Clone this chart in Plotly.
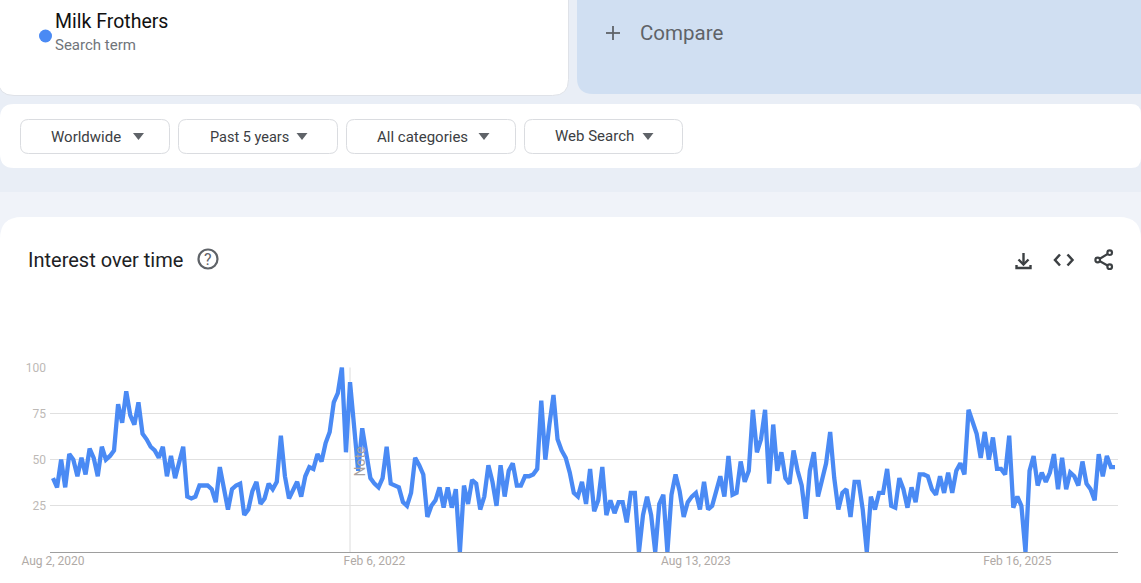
import pandas as pd
import plotly.graph_objects as go

W, H = 1141, 583

# ---- data ----
start_date = "2020-08-02"
interest = [
    40, 35, 50, 35, 53, 50, 41, 51, 42, 56, 51, 41, 57, 50, 52, 55, 80, 70, 87, 74,
    69, 81, 64, 61, 57, 55, 51, 57, 41, 52, 40, 48, 57, 30, 29, 30, 36, 36, 36, 34,
    27, 46, 35, 23, 34, 36, 37, 20, 23, 33, 38, 26, 29, 37, 34, 38, 63, 41, 29, 34,
    38, 30, 41, 46, 45, 53, 49, 59, 65, 81, 86, 100, 54, 92, 66, 44, 67, 54, 40, 37,
    35, 40, 57, 37, 36, 35, 27, 25, 32, 51, 47, 42, 19, 25, 28, 35, 24, 35, 24, 34,
    0, 36, 26, 39, 37, 23, 30, 47, 38, 25, 47, 30, 44, 48, 36, 36, 41, 41, 42, 45,
    82, 50, 69, 85, 61, 55, 51, 43, 32, 30, 38, 26, 45, 22, 28, 46, 20, 28, 21, 27,
    27, 16, 32, 32, 0, 20, 30, 20, 0, 26, 31, 0, 31, 42, 33, 19, 27, 30, 32, 23,
    38, 23, 25, 33, 41, 30, 52, 31, 32, 49, 38, 44, 77, 54, 61, 77, 37, 69, 44, 54,
    40, 37, 55, 44, 36, 18, 44, 54, 30, 39, 48, 65, 40, 23, 32, 34, 19, 38, 38, 23,
    0, 30, 23, 32, 32, 45, 25, 24, 40, 34, 24, 35, 27, 42, 42, 41, 34, 31, 41, 32,
    43, 32, 44, 48, 42, 77, 70, 64, 51, 65, 50, 62, 45, 45, 42, 63, 24, 30, 25, 0,
    44, 52, 36, 43, 38, 43, 53, 34, 51, 34, 43, 41, 36, 49, 37, 34, 28, 53, 41, 52,
    46, 46,
]
y_ticks = [25, 50, 75, 100]
x_tick_dates = ["2020-08-02", "2022-02-06", "2023-08-13", "2025-02-16"]
x_tick_labels = ["Aug 2, 2020", "Feb 6, 2022", "Aug 13, 2023", "Feb 16, 2025"]
note_date = "2021-12-26"
filters = ["Worldwide", "Past 5 years", "All categories", "Web Search"]

dates = pd.date_range(start_date, periods=len(interest), freq="7D")

# ---- helpers: page furniture in pixel coordinates ----
def fx(px):
    return px / W

def fy(py):
    return 1 - py / H

def P(px, py):
    return f"{fx(px):.5f},{fy(py):.5f}"

def round_rect(x0, y0, x1, y1, tl=0, tr=0, br=0, bl=0):
    d = f"M{P(x0 + tl, y0)} L{P(x1 - tr, y0)} "
    if tr:
        d += f"Q{P(x1, y0)} {P(x1, y0 + tr)} "
    d += f"L{P(x1, y1 - br)} "
    if br:
        d += f"Q{P(x1, y1)} {P(x1 - br, y1)} "
    d += f"L{P(x0 + bl, y1)} "
    if bl:
        d += f"Q{P(x0, y1)} {P(x0, y1 - bl)} "
    d += f"L{P(x0, y0 + tl)} "
    if tl:
        d += f"Q{P(x0, y0)} {P(x0 + tl, y0)} "
    return d + "Z"

def path_shape(d, fill="rgba(0,0,0,0)", line=None, width=1, layer="below"):
    return dict(type="path", xref="paper", yref="paper", path=d, fillcolor=fill,
                line=dict(color=line or "rgba(0,0,0,0)", width=width if line else 0),
                layer=layer)

def polyline(pts):
    return "M" + " L".join(P(a, b) for a, b in pts)

def circle(cx, cy, r, fill="rgba(0,0,0,0)", line=None, width=1):
    return dict(type="circle", xref="paper", yref="paper",
                x0=fx(cx - r), x1=fx(cx + r), y0=fy(cy + r), y1=fy(cy - r),
                fillcolor=fill, line=dict(color=line or "rgba(0,0,0,0)", width=width if line else 0),
                layer="below")

def label(text, x, y, size, color, family="Roboto", anchor="left"):
    return dict(text=text, x=fx(x), y=fy(y), xref="paper", yref="paper",
                xanchor=anchor, yanchor="middle", showarrow=False, borderpad=0,
                font=dict(size=size, color=color, family=family))

PAGE = "#e9eef6"
LOWER = "#f0f3f9"
ICON = "#3c4043"
shapes = [
    dict(type="rect", xref="paper", yref="paper", x0=0, x1=1, y0=0, y1=fy(192),
         fillcolor=LOWER, line=dict(width=0), layer="below"),
    path_shape(round_rect(-2, -20, 568.5, 95.5, br=16, bl=16), fill="#ffffff", line="#dfe2e8"),
    path_shape(round_rect(577, -20, 1160, 94, bl=16), fill="#d0dff2"),
    path_shape(round_rect(0, 104, 1141, 168, tl=14, tr=10, br=10, bl=14), fill="#ffffff"),
    path_shape(round_rect(0, 217, 1141, 600, tl=22, tr=22), fill="#ffffff"),
    circle(45.5, 36, 6.5, fill="#4a8af4"),
    # compare plus
    path_shape(polyline([(606, 33), (620, 33)]), line="#5f6368", width=1.8),
    path_shape(polyline([(613, 26), (613, 40)]), line="#5f6368", width=1.8),
    # help icon
    circle(208, 259, 9.5, line="#5f6368", width=2.2),
    # download icon
    path_shape(polyline([(1023.5, 253), (1023.5, 264)]), line=ICON, width=2.4),
    path_shape(polyline([(1018.5, 259.5), (1023.5, 264.5), (1028.5, 259.5)]), line=ICON, width=2.4),
    path_shape(polyline([(1016.5, 265), (1016.5, 268), (1030.5, 268), (1030.5, 265)]), line=ICON, width=2.4),
    # embed icon
    path_shape(polyline([(1060, 254.5), (1055, 260), (1060, 265.5)]), line=ICON, width=2.5),
    path_shape(polyline([(1067.5, 254.5), (1072.5, 260), (1067.5, 265.5)]), line=ICON, width=2.5),
    # share icon
    path_shape(polyline([(1109.7, 252.7), (1097.7, 260), (1109.7, 266.7)]), line=ICON, width=2.2),
    circle(1109.7, 252.7, 2.3, fill="#ffffff", line=ICON, width=2.2),
    circle(1097.7, 260, 2.3, fill="#ffffff", line=ICON, width=2.2),
    circle(1109.7, 266.7, 2.3, fill="#ffffff", line=ICON, width=2.2),
]

button_spans = [(20, 170), (178, 338), (346, 516), (524, 683)]
text_lefts = [50, 209, 376, 554]
text_sizes = [15, 14.5, 15, 15]
text_mids = [136.5, 137, 136.5, 136]
arrow_centers = [138.5, 302, 484, 648]
annotations = [
    label("Milk Frothers", 53.5, 21.5, 19.5, "#111111"),
    label("Search term", 53.5, 45, 15, "#70757a"),
    label("Compare", 638.5, 33, 20.5, "#5f6368"),
    label("Interest over time", 26.5, 260, 20, "#202124"),
    label("?", 208, 259.5, 16, "#5f6368", anchor="center"),
]
for name, (a, b), tx, ts, tm, ac in zip(filters, button_spans, text_lefts, text_sizes, text_mids, arrow_centers):
    shapes.append(path_shape(round_rect(a + .5, 119.5, b - .5, 153.5, 8, 8, 8, 8),
                             fill="#ffffff", line="#dadce0"))
    shapes.append(path_shape(f"M{P(ac - 5.5, 133)} L{P(ac + 5.5, 133)} L{P(ac, 140)} Z", fill="#5f6368"))
    annotations.append(label(name, tx, tm, ts, "#3c4043"))

# vertical note line and its rotated tag, placed through the data axis
shapes.append(dict(type="line", xref="x", yref="y", x0=note_date, x1=note_date, y0=0, y1=100,
                   line=dict(color="#dcdcdc", width=1), layer="below"))
annotations.append(dict(text="Note", x=note_date, y=49, xref="x", yref="y", textangle=-90,
                        xshift=9, showarrow=False, xanchor="center", yanchor="middle",
                        font=dict(size=14, color="#a8a2a0", family="Roboto")))

fig = go.Figure(go.Scatter(
    x=dates, y=interest, mode="lines",
    line=dict(color="#4a8af4", width=4.3),
    hoverinfo="skip", showlegend=False,
))

step_days = 7 / 4.069
fig.update_layout(
    width=W, height=H,
    margin=dict(l=0, r=0, t=0, b=0, autoexpand=False),
    paper_bgcolor=PAGE, plot_bgcolor="rgba(0,0,0,0)",
    shapes=shapes, annotations=annotations, showlegend=False,
    xaxis=dict(
        domain=[fx(50), fx(1118)], type="date", automargin=False,
        range=[dates[0] - pd.Timedelta(days=3 * step_days),
               dates[-1] + pd.Timedelta(days=3 * step_days)],
        tickmode="array", tickvals=x_tick_dates, ticktext=x_tick_labels,
        showgrid=False, showline=False, zeroline=False, ticks="",
        tickfont=dict(size=12, color="#b0aaa6", family="Roboto"),
    ),
    yaxis=dict(
        domain=[fy(552), fy(367.3)], range=[0, 100], automargin=False,
        tickmode="array", tickvals=y_ticks, ticktext=[str(v) for v in y_ticks],
        showgrid=True, gridcolor="#e0e0e0", gridwidth=1,
        zeroline=True, zerolinecolor="#9e9e9e", zerolinewidth=1,
        showline=False, ticks="", ticklabelstandoff=3,
        tickfont=dict(size=12, color="#bdb9b6", family="Roboto"),
    ),
)

fig.write_html("out.html", config=dict(displayModeBar=False),
               post_script="document.body.style.margin='0';document.body.style.overflow='hidden';"
                           "document.querySelectorAll('.js-line').forEach(function(e){e.style.strokeLinejoin='miter';});")
